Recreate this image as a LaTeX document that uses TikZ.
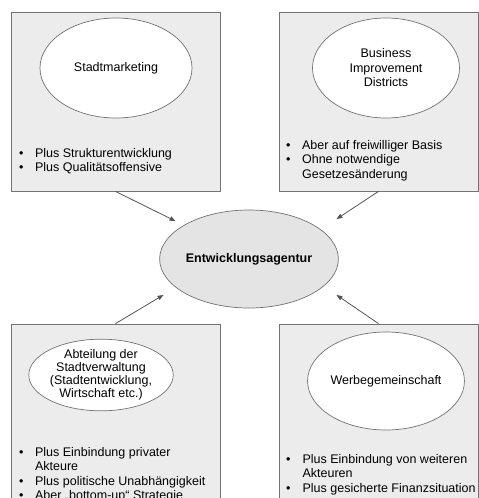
\documentclass[tikz,border=0pt]{standalone}
\usepackage{fontspec}
\setmainfont{Liberation Sans}
\usepackage{tikz}
\usetikzlibrary{arrows.meta,shapes.geometric,calc}
\definecolor{panelgray}{RGB}{236,236,236}
\definecolor{hubgray}{RGB}{228,228,228}
\definecolor{edgegray}{RGB}{115,115,115}
\definecolor{linegray}{RGB}{85,85,85}
\tikzset{
  panel/.style={
    draw=edgegray,
    fill=panelgray,
    line width=0.8pt,
    inner sep=0pt
  },
  bubble/.style={
    ellipse,
    draw=edgegray,
    fill=white,
    line width=0.7pt,
    align=center,
    inner sep=0pt
  },
  items/.style={anchor=base west, inner sep=0pt},
  line/.style={-{Triangle[length=6pt,width=4.5pt]}, draw=linegray, line width=0.8pt}
}

\begin{document}
\begin{tikzpicture}[x=1pt, y=-1pt, font=\fontsize{12.5}{14.5}\selectfont]
        \useasboundingbox (0,0) rectangle (479,498);
        \clip (0,0) rectangle (479,498);
        % the four panels
        \node[panel, minimum width=209pt, minimum height=179pt] (boxSM) at (115.5,101.5) {};
        \node[panel, minimum width=199pt, minimum height=179pt] (boxBID) at (378.5,101.5) {};
        \node[panel, minimum width=209pt, minimum height=196pt] (boxAbt) at (115.5,422) {};
        \node[panel, minimum width=199pt, minimum height=196pt] (boxWG) at (378.5,422) {};
        % ellipses
        \node[bubble, minimum width=152pt, minimum height=100pt] (sm) at (116,68) {Stadtmarketing};
        \node[bubble, minimum width=147pt, minimum height=100pt] (bid) at (386,68) {Business\\Improvement\\Districts};
        \node[bubble, minimum width=128pt, minimum height=70pt, font=\fontsize{12.5}{13}\selectfont] (abt) at (101,375) {Abteilung der\\Stadtverwaltung\\(Stadtentwicklung,\\Wirtschaft etc.)};
        \node[bubble, minimum width=148pt, minimum height=98pt] (wg) at (386,381) {Werbegemeinschaft};
        \node[bubble, fill=hubgray, minimum width=150pt, minimum height=98pt, font=\fontsize{12.5}{14.5}\selectfont\bfseries] (agentur) at (249,259) {Entwicklungsagentur};
        % bullet lists
        \node[items] (smList) at (19,157) {\begin{tabular}[t]{@{}l@{\hspace{11.5pt}}l@{}}
          \textbullet & Plus Strukturentwicklung\\
          \textbullet & Plus Qualitätsoffensive
        \end{tabular}};
        \node[items] (bidList) at (286,149) {\begin{tabular}[t]{@{}l@{\hspace{11.5pt}}l@{}}
          \textbullet & Aber auf freiwilliger Basis\\
          \textbullet & Ohne notwendige\\
          & Gesetzesänderung
        \end{tabular}};
        \node[items] (abtList) at (19,456) {\begin{tabular}[t]{@{}l@{\hspace{11.5pt}}l@{}}
          \textbullet & Plus Einbindung privater\\
          & Akteure\\
          \textbullet & Plus politische Unabhängigkeit\\
          \textbullet & Aber „bottom-up“ Strategie
        \end{tabular}};
        \node[items] (wgList) at (286,463) {\begin{tabular}[t]{@{}l@{\hspace{12pt}}l@{}}
          \textbullet & Plus Einbindung von weiteren\\
          & Akteuren\\
          \textbullet & Plus gesicherte Finanzsituation
        \end{tabular}};
        % arrow ends near the centre
        \coordinate (inSM) at ($(agentur.north west)+(-10,-3)$);
        \coordinate (inBID) at ($(agentur.north east)+(24,-5)$);
        \coordinate (inAbt) at ($(agentur.south west)+(-22,1)$);
        \coordinate (inWG) at ($(agentur.south east)+(24,1)$);
        \draw[line] (boxSM.south) -- (inSM);
        \draw[line] (boxBID.south) -- (inBID);
        \draw[line] (boxAbt.north) -- (inAbt);
        \draw[line] (boxWG.north) -- (inWG);
      \end{tikzpicture}
\end{document}
